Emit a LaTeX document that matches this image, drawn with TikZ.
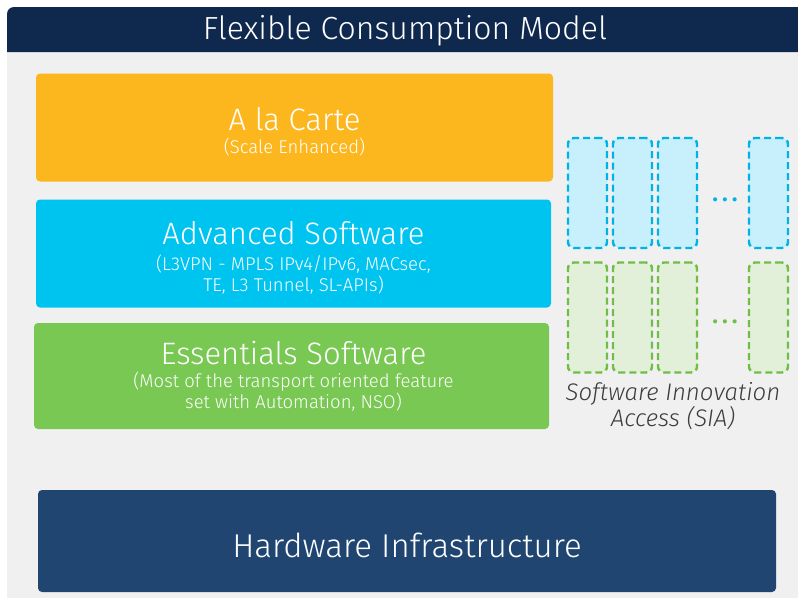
\documentclass[tikz,border=0pt]{standalone}
\usepackage{fontspec}
\setmainfont{Fira Sans Light}
\usetikzlibrary{positioning}
\definecolor{hdrnavy}{RGB}{15,41,78}
\definecolor{panelgray}{RGB}{240,240,240}
\definecolor{carteorange}{RGB}{253,183,30}
\definecolor{advcyan}{RGB}{0,196,240}
\definecolor{essgreen}{RGB}{121,200,83}
\definecolor{hwnavy}{RGB}{31,69,112}
\definecolor{siacyan}{RGB}{0,178,230}
\definecolor{siacyanfill}{RGB}{200,240,252}
\definecolor{siagreen}{RGB}{112,190,70}
\definecolor{siagreenfill}{RGB}{226,240,218}
\definecolor{siatext}{RGB}{60,60,60}

\tikzset{
    layer/.style={rounded corners=4, minimum height=108, inner sep=0},
    layertitle/.style={text=white, font=\fontsize{31}{33}\selectfont, inner sep=0, anchor=center},
    layersub/.style={text=white, font=\fontsize{18.5}{20.5}\selectfont, align=center, inner sep=0, anchor=north},
    siabox/.style={rounded corners=6, dash pattern=on 7pt off 4pt, line width=2.4pt,
        minimum width=39, minimum height=110, inner sep=0},
    siadots/.style={font=\fontsize{24}{24}\selectfont\bfseries, inner sep=0},
}

\begin{document}
\begin{tikzpicture}[x=1pt, y=-1pt]
    \useasboundingbox (0,0) rectangle (798,598);
    % Background panel and header bar.
    \fill[panelgray] (7,52) rectangle (798,598);
    \fill[hdrnavy] (7,52) -- (7,14) arc (180:270:7) -- (798,7) -- (798,52) -- cycle;
    \node[text=white, font=\fontsize{32}{34}\selectfont, inner sep=0] (header) at (405,31) {Flexible Consumption Model};

    % Software layers.
    \node[layer, fill=carteorange, minimum width=517] (carte) at (294.5,127.5) {};
    \node[layertitle] (cartetitle) at (294.5,119) {A la Carte};
    \node[layersub] (cartesub) at (294.5,138) {(Scale Enhanced)};

    \node[layer, fill=advcyan, minimum width=515] (adv) at (293.5,253.5) {};
    \node[layertitle] (advtitle) at (293.5,233) {Advanced Software};
    \node[layersub] (advsub) at (293.5,255) {(L3VPN - MPLS IPv4/IPv6, MACsec,\\TE, L3 Tunnel, SL-APIs)};

    \node[layer, fill=essgreen, minimum width=515, minimum height=106] (ess) at (291.5,376) {};
    \node[layertitle] (esstitle) at (293.5,353) {Essentials Software};
    \node[layersub] (esssub) at (293.5,372) {(Most of the transport oriented feature\\set with Automation, NSO)};

    % Hardware base.
    \node[layer, fill=hwnavy, minimum width=738, minimum height=102] (hw) at (407,541) {};
    \node[layertitle, font=\fontsize{33}{35}\selectfont] (hwtitle) at (407,545) {Hardware Infrastructure};

    % SIA columns.
    \foreach \x [count=\i] in {587.5,632.5,677.5,768.5} {
        \node[siabox, draw=siacyan, fill=siacyanfill] (siaadv\i) at (\x,193) {};
        \node[siabox, draw=siagreen, fill=siagreenfill] (siaess\i) at (\x,317.5) {};
    }
    \node[siadots, text=siacyan] (advdots) at (725,200) {.\,.\,.};
    \node[siadots, text=siagreen] (essdots) at (725,322) {.\,.\,.};
    \node[text=siatext, font=\fontsize{24}{26}\itshape, align=center, inner sep=0] (sialabel) at (673,406) {Software Innovation\\Access (SIA)};
\end{tikzpicture}
\end{document}
